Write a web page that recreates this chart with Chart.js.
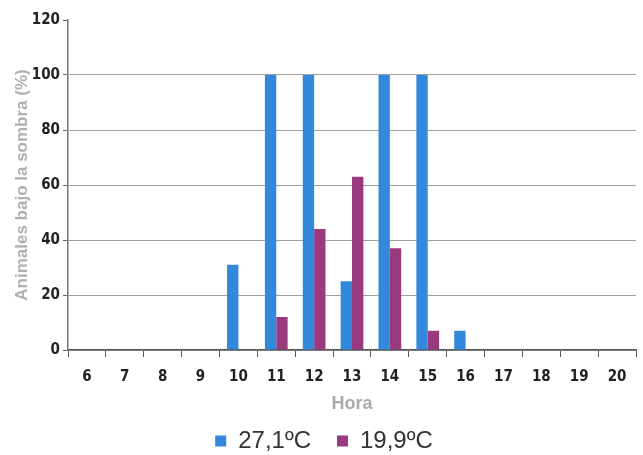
<!DOCTYPE html>
<html>
<head>
<meta charset="utf-8">
<script src="https://cdn.jsdelivr.net/npm/chart.js@4"></script>
<style>
  html, body { margin: 0; padding: 0; background: #fff; }
  #wrap { width: 643px; height: 455px; }
</style>
</head>
<body>
<div id="wrap"><canvas id="barChart" width="643" height="455"></canvas></div>
<script>
var horas = ['6', '7', '8', '9', '10', '11', '12', '13', '14', '15', '16', '17', '18', '19', '20'];
var temp27 = [0, 0, 0, 0, 31, 100, 100, 25, 100, 100, 7, 0, 0, 0, 0];
var temp19 = [0, 0, 0, 0, 0, 12, 44, 63, 37, 7, 0, 0, 0, 0, 0];
var yTicks = [0, 20, 40, 60, 80, 100, 120];

var tickFont = { family: "'DejaVu Sans Condensed', 'Liberation Sans', sans-serif", size: 15, weight: 'bold' };

// legend keeps its wide item spacing but a fixed, shorter box
var legendHeight = {
    id: 'legendHeight',
    beforeLayout: function (chart) {
        var lg = chart.legend;
        if (lg && !lg._fixed) {
            var origFit = lg.fit;
            lg.fit = function () {
                origFit.call(this);
                this.height = 52;
            };
            lg._fixed = true;
        }
    }
};

const ctx = document.getElementById('barChart');

var myChart = new Chart(ctx, {
    type: 'bar',
    data: {
        labels: horas,
        datasets: [{
            label: '27,1ºC',
            data: temp27,
            backgroundColor: '#3289dc',
            borderWidth: 0
        }, {
            label: '19,9ºC',
            data: temp19,
            backgroundColor: '#9a3a7e',
            borderWidth: 0
        }]
    },
    options: {
        responsive: false,
        animation: false,
        layout: { padding: { left: 12, right: 7, top: 20, bottom: 0 } },
        datasets: { bar: { categoryPercentage: 0.6, barPercentage: 1.0 } },
        scales: {
            x: {
                grid: {
                    offset: true,
                    drawOnChartArea: false,
                    drawTicks: true,
                    tickLength: 7,
                    color: '#555'
                },
                border: { color: '#555', width: 1.5 },
                ticks: { color: '#222', font: tickFont, padding: 11, maxRotation: 0 },
                title: {
                    display: true,
                    text: 'Hora',
                    color: '#aaa',
                    font: { family: "'Liberation Sans', sans-serif", size: 18, weight: 'bold' },
                    padding: { top: 0, bottom: -12 }
                },
                afterFit: function (scale) { scale.height = 53; }
            },
            y: {
                min: 0,
                max: 120,
                afterBuildTicks: function (scale) {
                    scale.ticks = yTicks.map(function (v) { return { value: v }; });
                },
                grid: {
                    color: function (c) { return c.tick && c.tick.value === 120 ? 'rgba(0,0,0,0)' : '#a0a0a0'; },
                    tickColor: '#666',
                    drawTicks: true,
                    tickLength: 5,
                    lineWidth: 1
                },
                border: { color: '#777', width: 1.5 },
                ticks: { color: '#222', font: tickFont, padding: 3 },
                title: {
                    display: true,
                    text: 'Animales bajo la sombra (%)',
                    color: '#b0b0b0',
                    font: { family: "'Liberation Sans', sans-serif", size: 17, weight: 'bold' },
                    padding: { top: 0, bottom: 4 }
                },
                afterFit: function (scale) { scale.width = 56; }
            }
        },
        plugins: {
            legend: {
                position: 'bottom',
                labels: {
                    color: '#333',
                    font: { family: "'Liberation Sans', sans-serif", size: 24 },
                    boxWidth: 11,
                    boxHeight: 11,
                    padding: 26
                }
            },
            tooltip: { enabled: false }
        }
    },
    plugins: [legendHeight]
});
</script>
</body>
</html>
